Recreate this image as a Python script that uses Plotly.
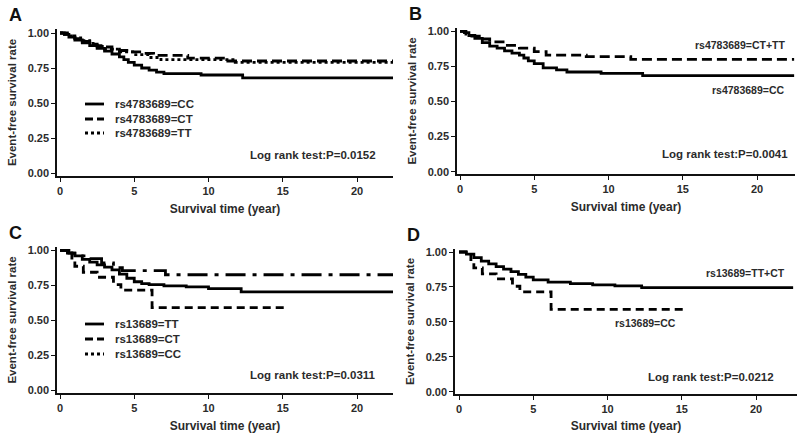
import plotly.graph_objects as go

# ---------------- data (Kaplan-Meier step curves) ----------------
# Panel A: rs4783689 genotypes
a_cc_t = [0, 0.3, 0.6, 1.0, 1.5, 2.0, 2.5, 3.0, 3.5, 4.0, 4.3, 4.6, 5.0, 5.5, 6.0, 6.5, 7.0, 9.5, 12.3, 22.5]
a_cc_s = [1.0, 0.99, 0.97, 0.95, 0.93, 0.91, 0.89, 0.87, 0.85, 0.83, 0.81, 0.79, 0.77, 0.75, 0.735, 0.72, 0.71, 0.70, 0.68, 0.68]
a_ct_t = [0, 0.3, 0.6, 1.0, 1.5, 2.0, 2.5, 3.0, 3.5, 4.0, 4.5, 5.5, 6.3, 8.6, 11.3, 22.5]
a_ct_s = [1.0, 0.99, 0.98, 0.96, 0.94, 0.92, 0.91, 0.90, 0.885, 0.875, 0.865, 0.855, 0.84, 0.82, 0.80, 0.80]
a_tt_t = [0, 0.5, 1.0, 1.5, 2.0, 2.5, 3.0, 4.0, 5.0, 6.0, 6.8, 9.3, 11.8, 22.5]
a_tt_s = [1.0, 0.98, 0.965, 0.945, 0.925, 0.905, 0.885, 0.865, 0.845, 0.825, 0.81, 0.81, 0.79, 0.79]

# Panel B: rs4783689 CC vs CT+TT
b_cc_t = [0, 0.3, 0.6, 1.0, 1.5, 2.0, 2.5, 3.0, 3.5, 4.0, 4.3, 4.6, 5.0, 5.6, 6.5, 7.2, 9.5, 12.3, 22.5]
b_cc_s = [1.0, 0.99, 0.97, 0.95, 0.92, 0.895, 0.88, 0.86, 0.845, 0.83, 0.81, 0.79, 0.77, 0.74, 0.725, 0.71, 0.70, 0.685, 0.685]
b_ctt_t = [0, 0.4, 0.8, 1.3, 2.0, 3.0, 4.0, 5.0, 5.8, 8.5, 11.5, 22.5]
b_ctt_s = [1.0, 0.98, 0.965, 0.945, 0.925, 0.90, 0.88, 0.855, 0.83, 0.82, 0.80, 0.80]

# Panel C: rs13689 genotypes
c_tt_t = [0, 0.5, 1.0, 1.5, 2.0, 2.5, 3.0, 3.5, 4.0, 4.5, 5.0, 5.5, 6.0, 7.0, 8.5, 10.0, 12.2, 22.5]
c_tt_s = [1.0, 0.98, 0.96, 0.935, 0.915, 0.895, 0.88, 0.86, 0.83, 0.80, 0.775, 0.762, 0.755, 0.745, 0.738, 0.725, 0.703, 0.703]
c_ct_t = [0, 0.6, 1.0, 1.8, 2.8, 3.6, 4.2, 7.1, 22.5]
c_ct_s = [1.0, 0.98, 0.96, 0.94, 0.91, 0.875, 0.855, 0.825, 0.825]
c_cc_t = [0, 0.8, 1.0, 1.57, 2.5, 3.6, 4.1, 6.2, 15.1]
c_cc_s = [1.0, 0.945, 0.886, 0.843, 0.807, 0.755, 0.715, 0.59, 0.59]

# Panel D: rs13689 TT+CT vs CC
d_ttct_t = [0, 0.5, 1.0, 1.5, 2.0, 2.5, 3.0, 3.5, 4.0, 4.5, 5.0, 6.0, 7.5, 9.0, 10.5, 12.3, 22.5]
d_ttct_s = [1.0, 0.985, 0.96, 0.935, 0.915, 0.895, 0.878, 0.86, 0.84, 0.82, 0.80, 0.785, 0.773, 0.764, 0.757, 0.745, 0.745]
d_cc_t = [0, 0.8, 1.0, 1.57, 2.5, 3.6, 4.1, 6.2, 15.1]
d_cc_s = [1.0, 0.945, 0.886, 0.843, 0.807, 0.755, 0.715, 0.59, 0.59]

x_ticks = [0, 5, 10, 15, 20]
y_ticks = [0.0, 0.25, 0.5, 0.75, 1.0]
y_ticklabels = ["0.00", "0.25", "0.50", "0.75", "1.00"]

panel_letters = ["A", "B", "C", "D"]
pvalues = ["Log rank test:P=0.0152", "Log rank test:P=0.0041",
           "Log rank test:P=0.0311", "Log rank test:P=0.0212"]
legend_a = ["rs4783689=CC", "rs4783689=CT", "rs4783689=TT"]
legend_c = ["rs13689=TT", "rs13689=CT", "rs13689=CC"]
labels_b = ["rs4783689=CT+TT", "rs4783689=CC"]
labels_d = ["rs13689=TT+CT", "rs13689=CC"]

# ---------------- layout helpers ----------------
W, H = 800, 433
TXT = "#2b2b2b"
FONT = "Liberation Sans, Arial, sans-serif"


def px(x):
    return x / W


def py(y):
    return 1 - y / H


# pixel geometry of each panel: axis box, x zero pixel, y pixels of 1.0 and 0.0
panels = [
    dict(x0=57, x1=393, y0=29, y1=176, xz=60, y1v=33.0, y0v=173.0),
    dict(x0=457, x1=795, y0=28, y1=174, xz=460, y1v=31.3, y0v=171.7),
    dict(x0=57, x1=393, y0=247, y1=393, xz=60, y1v=250.3, y0v=390.0),
    dict(x0=455, x1=797, y0=249, y1=394, xz=459, y1v=252.0, y0v=391.7),
]
PX_PER_YEAR = 14.85

fig = go.Figure()
layout = dict(width=W, height=H, autosize=False, margin=dict(l=0, r=0, t=0, b=0, pad=0),
              paper_bgcolor="white", plot_bgcolor="white", showlegend=False,
              font=dict(family=FONT, color=TXT))
annotations = []
shapes = []

for i, p in enumerate(panels):
    k = "" if i == 0 else str(i + 1)
    xr = [(p["x0"] - p["xz"]) / PX_PER_YEAR, (p["x1"] - p["xz"]) / PX_PER_YEAR]
    ppu = p["y0v"] - p["y1v"]
    yr = [(p["y0v"] - p["y1"]) / ppu, (p["y0v"] - p["y0"]) / ppu]
    layout["xaxis" + k] = dict(
        domain=[px(p["x0"]), px(p["x1"])], range=xr, anchor="y" + k, automargin=False,
        showline=True, linecolor="#111", linewidth=1.5, mirror=False,
        ticks="outside", ticklen=4, tickwidth=1.2, tickcolor="#111",
        tickvals=x_ticks, showgrid=False, zeroline=False,
        tickfont=dict(size=11, weight="bold", color=TXT),
        title=dict(text="Survival time (year)", standoff=9,
                   font=dict(size=12, weight="bold", color=TXT)))
    layout["yaxis" + k] = dict(
        domain=[py(p["y1"]), py(p["y0"])], range=yr, anchor="x" + k, automargin=False,
        showline=True, linecolor="#111", linewidth=1.5, mirror=False,
        ticks="outside", ticklen=4, tickwidth=1.2, tickcolor="#111",
        tickvals=y_ticks, ticktext=y_ticklabels, showgrid=False, zeroline=False,
        tickfont=dict(size=11, weight="bold", color=TXT),
        title=dict(text="Event-free survival rate", standoff=9,
                   font=dict(size=11.5, weight="bold", color=TXT)))
    # panel letter
    annotations.append(dict(text=panel_letters[i], xref="paper", yref="paper",
                            x=px(p["x0"] - 50), y=py(p["y0"] - 14), xanchor="left", yanchor="middle",
                            showarrow=False, font=dict(size=18, weight="bold", color="#111")))
    # log rank test text
    annotations.append(dict(text=pvalues[i], xref="paper", yref="paper",
                            x=px(p["x0"] + 321 if i != 1 else p["x0"] + 333),
                            y=py(p["y0"] + 126 if i in (0, 1) else p["y0"] + 128),
                            xanchor="right", yanchor="middle", showarrow=False,
                            font=dict(size=11.5, weight="bold", color=TXT)))


def step(t, s, name, dash, ax, width=2.8):
    fig.add_trace(go.Scatter(x=t, y=s, mode="lines", name=name, line_shape="hv",
                             line=dict(color="#000", width=width, dash=dash),
                             xaxis="x" + ax, yaxis="y" + ax, hoverinfo="name+x+y"))


DASH_AB = "10px,5px"
DOT = "3px,3px"
DASH_LOW = "8px,5px"
DASH_UP = "20px,7px,4px,7px"

# Panel A
step(a_tt_t, a_tt_s, legend_a[2], DOT, "")
step(a_ct_t, a_ct_s, legend_a[1], DASH_AB, "")
step(a_cc_t, a_cc_s, legend_a[0], "solid", "")
# Panel B
step(b_ctt_t, b_ctt_s, labels_b[0], DASH_AB, "2")
step(b_cc_t, b_cc_s, labels_b[1], "solid", "2")
# Panel C
step(c_cc_t, c_cc_s, legend_c[2], DASH_LOW, "3")
step(c_ct_t, c_ct_s, legend_c[1], DASH_UP, "3")
step(c_tt_t, c_tt_s, legend_c[0], "solid", "3")
# Panel D
step(d_cc_t, d_cc_s, labels_d[1], DASH_LOW, "4")
step(d_ttct_t, d_ttct_s, labels_d[0], "solid", "4")

# manual legends for A and C
legend_dashes = ["solid", "8px,4px", "3px,3px"]
for names, ys in ((legend_a, [104, 119, 133]), (legend_c, [324, 339, 354])):
    for name, yy, d in zip(names, ys, legend_dashes):
        shapes.append(dict(type="line", xref="paper", yref="paper",
                           x0=px(85), x1=px(104), y0=py(yy), y1=py(yy),
                           line=dict(color="#000", width=2.8, dash=d)))
        annotations.append(dict(text=name, xref="paper", yref="paper", x=px(113), y=py(yy),
                                xanchor="left", yanchor="middle", showarrow=False,
                                font=dict(size=11.5, weight="bold", color=TXT)))

# curve labels for B and D
for text, xr_, yy in ((labels_b[0], 787, 45), (labels_b[1], 787, 90),
                      (labels_d[0], 787, 273), (labels_d[1], 678, 323)):
    annotations.append(dict(text=text, xref="paper", yref="paper", x=px(xr_), y=py(yy),
                            xanchor="right", yanchor="middle", showarrow=False,
                            font=dict(size=10.5, weight="bold", color=TXT)))

layout["annotations"] = annotations
layout["shapes"] = shapes
fig.update_layout(**layout)
fig.write_html("out.html", config={"displayModeBar": False},
               post_script="document.body.style.margin='0';document.body.style.overflow='hidden';")
